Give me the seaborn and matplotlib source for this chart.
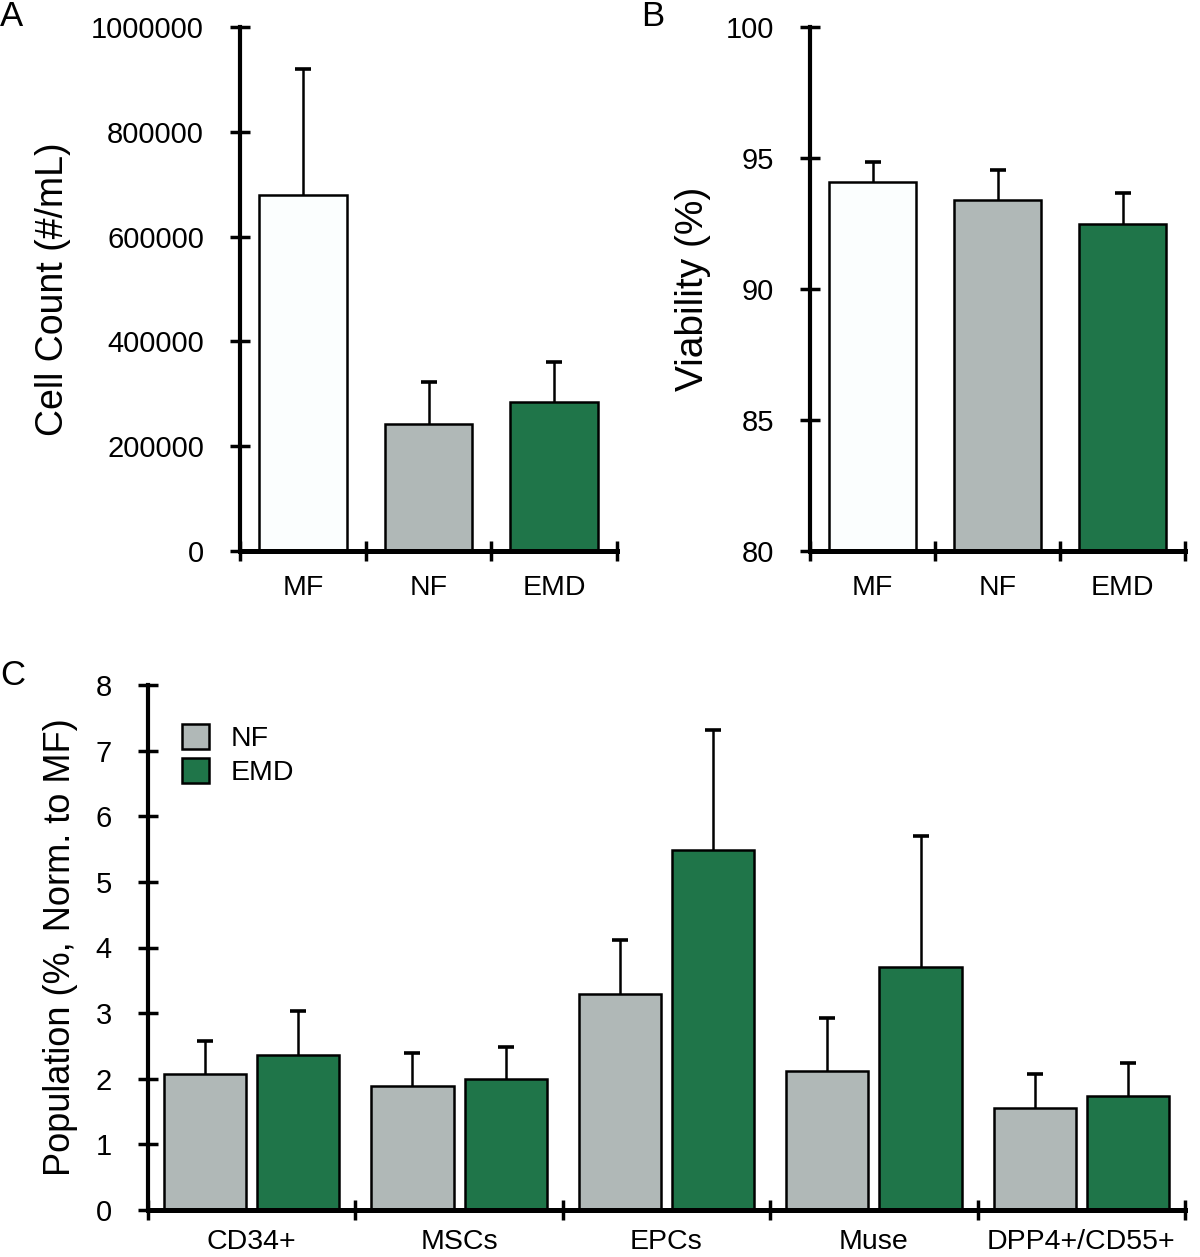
import numpy as np
import pandas as pd
import matplotlib
matplotlib.use("Agg")
import matplotlib.pyplot as plt
import seaborn as sns

# ---- data ----
groups_ab = ["MF", "NF", "EMD"]
cell_count = [679000, 242000, 284000]
cell_count_err = [241000, 80000, 76000]
viability = [94.07, 93.39, 92.49]
viability_err = [0.76, 1.17, 1.18]

cats_c = ["CD34+", "MSCs", "EPCs", "Muse", "DPP4+/CD55+"]
groups_c = ["NF", "EMD"]
nf_pop = [2.07, 1.89, 3.29, 2.12, 1.56]
nf_pop_err = [0.50, 0.51, 0.82, 0.80, 0.52]
emd_pop = [2.36, 1.99, 5.48, 3.71, 1.73]
emd_pop_err = [0.67, 0.49, 1.84, 1.99, 0.51]

colors = {"MF": "#fbfefe", "NF": "#b0b8b7", "EMD": "#1f7549"}

sns.set_style("ticks")
plt.rcParams["font.family"] = ["Liberation Sans", "DejaVu Sans"]
plt.rcParams["axes.edgecolor"] = "black"
plt.rcParams["xtick.color"] = "black"
plt.rcParams["ytick.color"] = "black"
plt.rcParams["text.color"] = "black"
plt.rcParams["axes.labelcolor"] = "black"

W, H = 1200, 1257
fig = plt.figure(figsize=(W / 100, H / 100), dpi=100)


def axes_px(l, t, r, b):
    return fig.add_axes([l / W, 1 - b / H, (r - l) / W, (b - t) / H])


YTICK_FS = 21
XTICK_FS = 20.5


def style_axis(ax, n, xpad):
    sns.despine(ax=ax)
    ax.spines["left"].set_linewidth(3.0)
    ax.spines["bottom"].set_linewidth(3.6)
    ax.set_xlim(-0.5, n - 0.5)
    ax.set_xticks(np.arange(n))
    ax.set_xticks(np.arange(-0.5, n, 1.0), minor=True)
    ax.tick_params(axis="x", which="major", length=0, pad=xpad, labelsize=XTICK_FS)
    ax.tick_params(axis="x", which="minor", length=14, width=2.5, direction="inout")
    ax.tick_params(axis="y", length=14, width=2.5, direction="inout", pad=19,
                   labelsize=YTICK_FS)
    ax.set_xlabel("")


def add_errors(ax, containers, errs):
    for cont, err in zip(containers, errs):
        xs = [p.get_x() + p.get_width() / 2 for p in cont.patches]
        ys = [p.get_height() + p.get_y() for p in cont.patches]
        eb = ax.errorbar(xs, ys, yerr=[np.zeros(len(err)), err], fmt="none",
                         ecolor="black", elinewidth=1.8, capsize=6,
                         capthick=2.6, zorder=1)
        caplines = eb.lines[1]
        if len(caplines) == 2:
            caplines[0].set_visible(False)  # hide lower caps at bar tops


# ---- Panel A ----
axA = axes_px(240, 27, 617, 551)
dfA = pd.DataFrame({"group": groups_ab, "value": cell_count})
sns.barplot(data=dfA, x="group", y="value", hue="group", palette=colors,
            saturation=1, legend=False, width=0.7, edgecolor="black",
            linewidth=1.8, errorbar=None, ax=axA, zorder=2)
add_errors(axA, list(axA.containers), [[e] for e in cell_count_err])
axA.set_ylim(0, 1000000)
axA.set_yticks(np.arange(0, 1000001, 200000))
axA.ticklabel_format(axis="y", style="plain")
style_axis(axA, 3, 17)
axA.set_ylabel("Cell Count (#/mL)", fontsize=27)
axA.yaxis.set_label_coords((71 - 240) / 377, 0.5)

# ---- Panel B ----
axB = axes_px(810, 27, 1185, 551)
dfB = pd.DataFrame({"group": groups_ab, "value": viability})
sns.barplot(data=dfB, x="group", y="value", hue="group", palette=colors,
            saturation=1, legend=False, width=0.7, edgecolor="black",
            linewidth=1.8, errorbar=None, ax=axB, zorder=2)
axB.set_ylim(80, 100)
add_errors(axB, list(axB.containers), [[e] for e in viability_err])
axB.set_ylim(80, 100)
axB.set_yticks(np.arange(80, 101, 5))
style_axis(axB, 3, 17)
axB.set_ylabel("Viability (%)", fontsize=28)
axB.yaxis.set_label_coords((711 - 810) / 375, 0.5)

# ---- Panel C ----
axC = axes_px(148, 685, 1185, 1210)
dfC = pd.DataFrame({
    "cat": cats_c * 2,
    "group": ["NF"] * len(cats_c) + ["EMD"] * len(cats_c),
    "value": nf_pop + emd_pop,
})
sns.barplot(data=dfC, x="cat", y="value", hue="group", hue_order=groups_c,
            palette=colors, saturation=1, width=0.9, gap=0.12,
            edgecolor="black", linewidth=1.8, errorbar=None, ax=axC, zorder=2)
add_errors(axC, axC.containers, [nf_pop_err, emd_pop_err])
axC.set_ylim(0, 8)
axC.set_yticks(np.arange(0, 9, 1))
style_axis(axC, len(cats_c), 13.5)
axC.set_ylabel("Population (%, Norm. to MF)", fontsize=26)
axC.yaxis.set_label_coords((78 - 148) / 1037, 0.5)
leg = axC.legend(loc="upper left", bbox_to_anchor=(0.033, 0.925), frameon=False,
                 fontsize=20.5, handlelength=0.95, handleheight=0.95,
                 handletextpad=0.75, labelspacing=0.2, borderaxespad=0,
                 borderpad=0)
for h in leg.legend_handles:
    h.set_edgecolor("black")
    h.set_linewidth(1.8)

# ---- panel letters ----
fig.text(0 / W, 1 - 17 / H, "A", fontsize=25, va="center", ha="left")
fig.text(641 / W, 1 - 17 / H, "B", fontsize=25, va="center", ha="left")
fig.text(0 / W, 1 - 675 / H, "C", fontsize=25, va="center", ha="left")

fig.savefig("out.png", dpi=100)
